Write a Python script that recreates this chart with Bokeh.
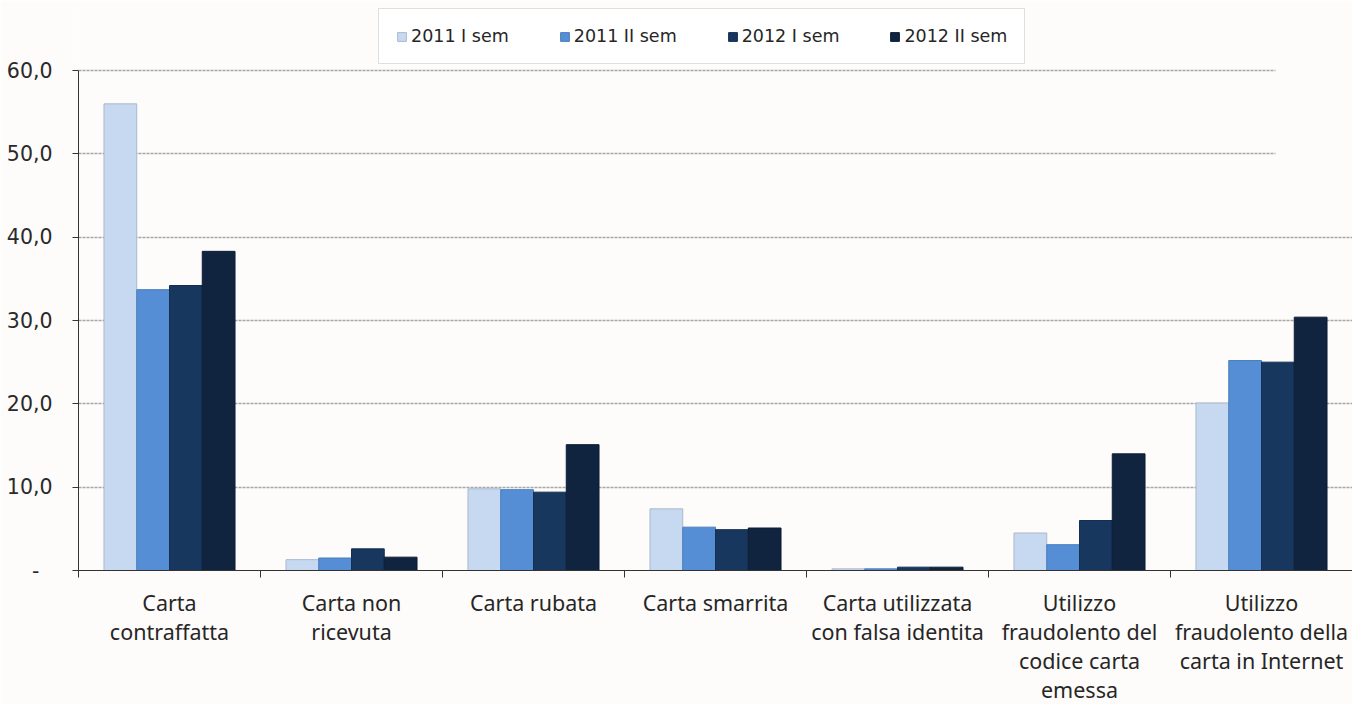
from bokeh.plotting import figure
from bokeh.models import (Range1d, LinearAxis, FixedTicker,
                          Legend, LegendItem, ColumnDataSource, BoxAnnotation, CustomJSTickFormatter)
from bokeh.transform import dodge
from bokeh.embed import file_html
from bokeh.resources import INLINE

categories = ["Carta\ncontraffatta", "Carta non\nricevuta", "Carta rubata", "Carta smarrita",
              "Carta utilizzata\ncon falsa identita", "Utilizzo\nfraudolento del\ncodice carta\nemessa",
              "Utilizzo\nfraudolento della\ncarta in Internet"]
series_names = ["2011 I sem", "2011 II sem", "2012 I sem", "2012 II sem"]
s2011_1 = [56.0, 1.3, 9.8, 7.4, 0.2, 4.5, 20.1]
s2011_2 = [33.7, 1.5, 9.7, 5.2, 0.2, 3.1, 25.2]
s2012_1 = [34.2, 2.6, 9.4, 4.9, 0.4, 6.0, 25.0]
s2012_2 = [38.3, 1.6, 15.1, 5.1, 0.4, 14.0, 30.4]
y_ticks = [0, 10, 20, 30, 40, 50, 60]
y_tick_labels = ["-\u00a0\u00a0", "10,0", "20,0", "30,0", "40,0", "50,0", "60,0"]

colors = ["#c6d9f1", "#558ed5", "#17375e", "#10243f"]
outlines = ["#a9b9cc", "#4a7fc0", "#142f50", "#0d1e35"]
bg = "#fdfcfa"

n = len(categories)
centers = [i + 0.5 for i in range(n)]
src = ColumnDataSource(dict(xc=centers, a=s2011_1, b=s2011_2, c=s2012_1, d=s2012_2))

# the frame extends above the 60 line so that the legend sits inside it
y_top = 60 + 68 * 60 / 500
p = figure(x_range=Range1d(0, n), y_range=Range1d(0, y_top),
           frame_width=1274, frame_height=568, output_backend="svg", toolbar_location=None,
           x_axis_location=None, y_axis_location=None,
           min_border_left=78, min_border_right=0, min_border_top=2, min_border_bottom=10)
p.background_fill_color = bg
p.border_fill_color = bg
p.outline_line_color = None
p.xgrid.visible = False
p.ygrid.ticker = FixedTicker(ticks=y_ticks)
p.ygrid.grid_line_color = "#a6a6a6"
p.ygrid.grid_line_dash = "3 1"
p.ygrid.grid_line_width = 1.5

# y axis
yax = LinearAxis(ticker=FixedTicker(ticks=y_ticks), bounds=(0, 60),
                 major_label_overrides={t: l for t, l in zip(y_ticks, y_tick_labels)})
yax.axis_line_color = "#333333"
yax.major_tick_line_color = "#333333"
yax.major_tick_out = 6
yax.major_tick_in = 0
yax.minor_tick_line_color = None
yax.major_label_standoff = 20
yax.major_label_text_font = "DejaVu Sans"
yax.major_label_text_font_size = "20.5px"
yax.major_label_text_color = "#2a2a2a"
p.add_layout(yax, "left")

# axis with ticks at category boundaries
nax = LinearAxis(ticker=FixedTicker(ticks=list(range(n + 1))),
                 formatter=CustomJSTickFormatter(code="return ''"))
nax.axis_line_color = "#333333"
nax.major_tick_line_color = "#333333"
nax.major_tick_out = 7
nax.major_tick_in = 0
nax.minor_tick_line_color = None
nax.major_label_standoff = 0
nax.major_label_text_font_size = "1px"
p.add_layout(nax, "below")

# axis with the category labels
cax = LinearAxis(ticker=FixedTicker(ticks=centers),
                 major_label_overrides={c: lab for c, lab in zip(centers, categories)})
cax.axis_line_color = None
cax.major_tick_line_color = None
cax.minor_tick_line_color = None
cax.major_label_standoff = 4
cax.major_label_text_font = "Noto Sans"
cax.major_label_text_font_size = "21.5px"
cax.major_label_text_color = "#262626"
cax.major_label_text_line_height = 1.0
p.add_layout(cax, "below")

offsets = [-0.27, -0.09, 0.09, 0.27]
renderers = []
for key, off, col, oc in zip(["a", "b", "c", "d"], offsets, colors, outlines):
    r = p.vbar(x=dodge("xc", off), top=key, width=0.18, source=src,
               fill_color=col, line_color=oc, line_width=1)
    renderers.append(r)

# cover the two top grid lines at the right (as in the reference)
p.add_layout(BoxAnnotation(left=(1275 - 78) / 182, right=n + 0.2, bottom=45, top=60.5,
                           fill_color=bg, fill_alpha=1, line_color=None, level="underlay"))

legend = Legend(items=[LegendItem(label=s, renderers=[r]) for s, r in zip(series_names, renderers)],
                orientation="horizontal", location=(300, 506))
legend.border_line_color = "#c0c0c0"
legend.border_line_width = 1
legend.background_fill_color = "#ffffff"
legend.background_fill_alpha = 1
legend.label_text_font = "DejaVu Sans"
legend.label_text_font_size = "17.5px"
legend.label_text_color = "#262626"
legend.glyph_width = 11
legend.glyph_height = 11
legend.label_standoff = 4
legend.spacing = 50
legend.padding = 17
legend.margin = 0
p.add_layout(legend, "center")

open("out.html", "w").write(file_html(p, INLINE))
